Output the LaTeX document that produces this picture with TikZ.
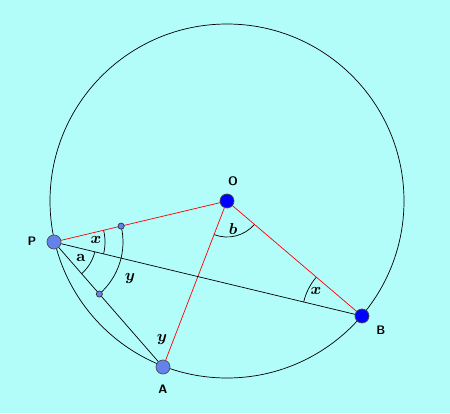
\documentclass[tikz,border=0pt]{standalone}
\usepackage{amsmath,bm}
\usetikzlibrary{positioning,calc}
\definecolor{bgcyan}{RGB}{178,252,250}
\definecolor{ptblue}{RGB}{100,130,235}
\tikzset{
  bigpt/.style={circle, draw=black!70, fill=ptblue, inner sep=0pt, minimum size=8pt},
  opt/.style={circle, draw=black!70, fill=blue, inner sep=0pt, minimum size=8pt},
  smallpt/.style={circle, draw=black!80, fill=ptblue, inner sep=0pt, minimum size=3.5pt},
  ptlabel/.style={font=\sffamily\bfseries\scriptsize},
  anglabel/.style={font=\small}
}
\begin{document}
\begin{tikzpicture}[x=0.02cm, y=-0.02cm]
    \useasboundingbox[fill=bgcyan] (0,0) rectangle (450,413);
    \draw (227,201) circle [radius=177];

    \coordinate (o) at (227,201);
    \coordinate (p) at (54,242);
    \coordinate (a) at (163,367);
    \coordinate (b) at (362,316);

    % angle arcs (y axis points down)
    \draw (p) ++(-13.3:51) arc [start angle=-13.3, end angle=13.5, radius=51];
    \draw (p) ++(13.5:42) arc [start angle=13.5, end angle=48.9, radius=42];
    \draw (p) ++(-13.3:69) arc [start angle=-13.3, end angle=48.9, radius=69];
    \draw (o) ++(111.1:36) arc [start angle=111.1, end angle=40.4, radius=36];
    \draw (b) ++(193.5:60) arc [start angle=193.5, end angle=220.4, radius=60];

    \draw[red] (p) -- (o);
    \draw[red] (o) -- (a);
    \draw[red] (o) -- (b);
    \draw (p) -- (b);
    \draw (p) -- (a);

    \node[smallpt] (mo) at ($(p)!69/177.8!(o)$) {};
    \node[smallpt] (ma) at ($(p)!69/165.8!(a)$) {};
    \node[bigpt] (nP) at (p) {};
    \node[bigpt] (nA) at (a) {};
    \node[opt] (nB) at (b) {};
    \node[opt] (nO) at (o) {};

    \node[ptlabel] at (233,181) {O};
    \node[ptlabel] at (32,241) {P};
    \node[ptlabel] at (163,389) {A};
    \node[ptlabel] at (381,330) {B};

    \node[anglabel] at (96,240) {$\bm{x}$};
    \node[anglabel] at (81,258) {\textbf{a}};
    \node[anglabel] at (130,279) {$\bm{y}$};
    \node[anglabel] at (233,229) {$\bm{b}$};
    \node[anglabel] at (316,291) {$\bm{x}$};
    \node[anglabel] at (162,340) {$\bm{y}$};
\end{tikzpicture}
\end{document}
